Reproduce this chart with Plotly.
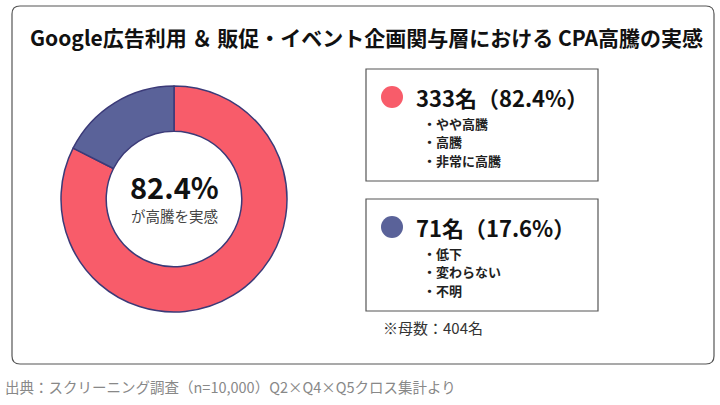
import plotly.graph_objects as go

# ---- data ----
categories = ["高騰を実感", "高騰を実感せず"]
counts = [333, 71]
shares = [82.4, 17.6]
group_items = [["やや高騰", "高騰", "非常に高騰"], ["低下", "変わらない", "不明"]]
total_n = 404
title_text = "Google広告利用 ＆ 販促・イベント企画関与層における CPA高騰の実感"
center_sub = "が高騰を実感"
source_text = "出典：スクリーニング調査（n=10,000）Q2×Q4×Q5クロス集計より"

colors = ["#F85C6A", "#5A6299"]
W, H = 720, 405
FONT = "Noto Sans CJK JP"

def px(x):
    return x / W

def py(y):
    return 1 - y / H

fig = go.Figure()
fig.add_trace(go.Pie(
    labels=categories, values=counts, sort=False, direction="clockwise", rotation=0,
    hole=0.6, marker=dict(colors=colors, line=dict(color="#3B3A78", width=1.5)),
    textinfo="none", hoverinfo="label+value+percent", showlegend=False,
    domain=dict(x=[px(61), px(287)], y=[py(312), py(86)]),
))

shapes = []
annotations = []
# outer rounded frame
r = 8
x0, y0, x1, y1 = 12, 6, 714, 364
path = (f"M {px(x0+r)},{py(y0)} L {px(x1-r)},{py(y0)} Q {px(x1)},{py(y0)} {px(x1)},{py(y0+r)} "
        f"L {px(x1)},{py(y1-r)} Q {px(x1)},{py(y1)} {px(x1-r)},{py(y1)} "
        f"L {px(x0+r)},{py(y1)} Q {px(x0)},{py(y1)} {px(x0)},{py(y1-r)} "
        f"L {px(x0)},{py(y0+r)} Q {px(x0)},{py(y0)} {px(x0+r)},{py(y0)} Z")
shapes.append(dict(type="path", xref="paper", yref="paper", path=path,
                   line=dict(color="#555555", width=1.2), fillcolor="rgba(0,0,0,0)"))

annotations.append(dict(x=px(366), y=py(37), xref="paper", yref="paper", text=f"<b>{title_text}</b>",
                        showarrow=False, font=dict(family=FONT, size=21, color="#111111"),
                        xanchor="center", yanchor="middle"))

# center text
annotations.append(dict(x=px(174), y=py(186), xref="paper", yref="paper", text=f"<b>{shares[0]}%</b>",
                        showarrow=False, font=dict(family=FONT, size=29, color="#111111"),
                        xanchor="center", yanchor="middle"))
annotations.append(dict(x=px(174), y=py(215), xref="paper", yref="paper", text=center_sub,
                        showarrow=False, font=dict(family=FONT, size=14.5, color="#444444"),
                        xanchor="center", yanchor="middle"))

box_tops = [69, 199]
for i in range(2):
    t = box_tops[i]
    shapes.append(dict(type="rect", xref="paper", yref="paper", x0=px(366), x1=px(598),
                       y0=py(t), y1=py(t + 112), line=dict(color="#555555", width=1.2),
                       fillcolor="rgba(0,0,0,0)"))
    cy = t + 28
    shapes.append(dict(type="circle", xref="paper", yref="paper", x0=px(381), x1=px(403),
                       y0=py(cy - 11), y1=py(cy + 11), line=dict(width=0), fillcolor=colors[i]))
    annotations.append(dict(x=px(414), y=py(cy), xref="paper", yref="paper",
                            text=f"<b>{counts[i]}名（{shares[i]}%）</b>", showarrow=False,
                            font=dict(family=FONT, size=22, color="#111111"),
                            xanchor="left", yanchor="middle"))
    for j, item in enumerate(group_items[i]):
        annotations.append(dict(x=px(421), y=py(t + 54 + j * 18.5), xref="paper", yref="paper",
                                text=f"<b>・{item}</b>", showarrow=False,
                                font=dict(family=FONT, size=13, color="#222222"),
                                xanchor="left", yanchor="middle"))

annotations.append(dict(x=px(381), y=py(327), xref="paper", yref="paper", text=f"※母数：{total_n}名",
                        showarrow=False, font=dict(family=FONT, size=15, color="#333333"),
                        xanchor="left", yanchor="middle"))
annotations.append(dict(x=px(3), y=py(386), xref="paper", yref="paper", text=source_text,
                        showarrow=False, font=dict(family=FONT, size=14.5, color="#888888"),
                        xanchor="left", yanchor="middle"))

fig.update_layout(width=W, height=H, margin=dict(l=0, r=0, t=0, b=0),
                  paper_bgcolor="white", plot_bgcolor="white",
                  shapes=shapes, annotations=annotations)
fig.write_html("out.html")
